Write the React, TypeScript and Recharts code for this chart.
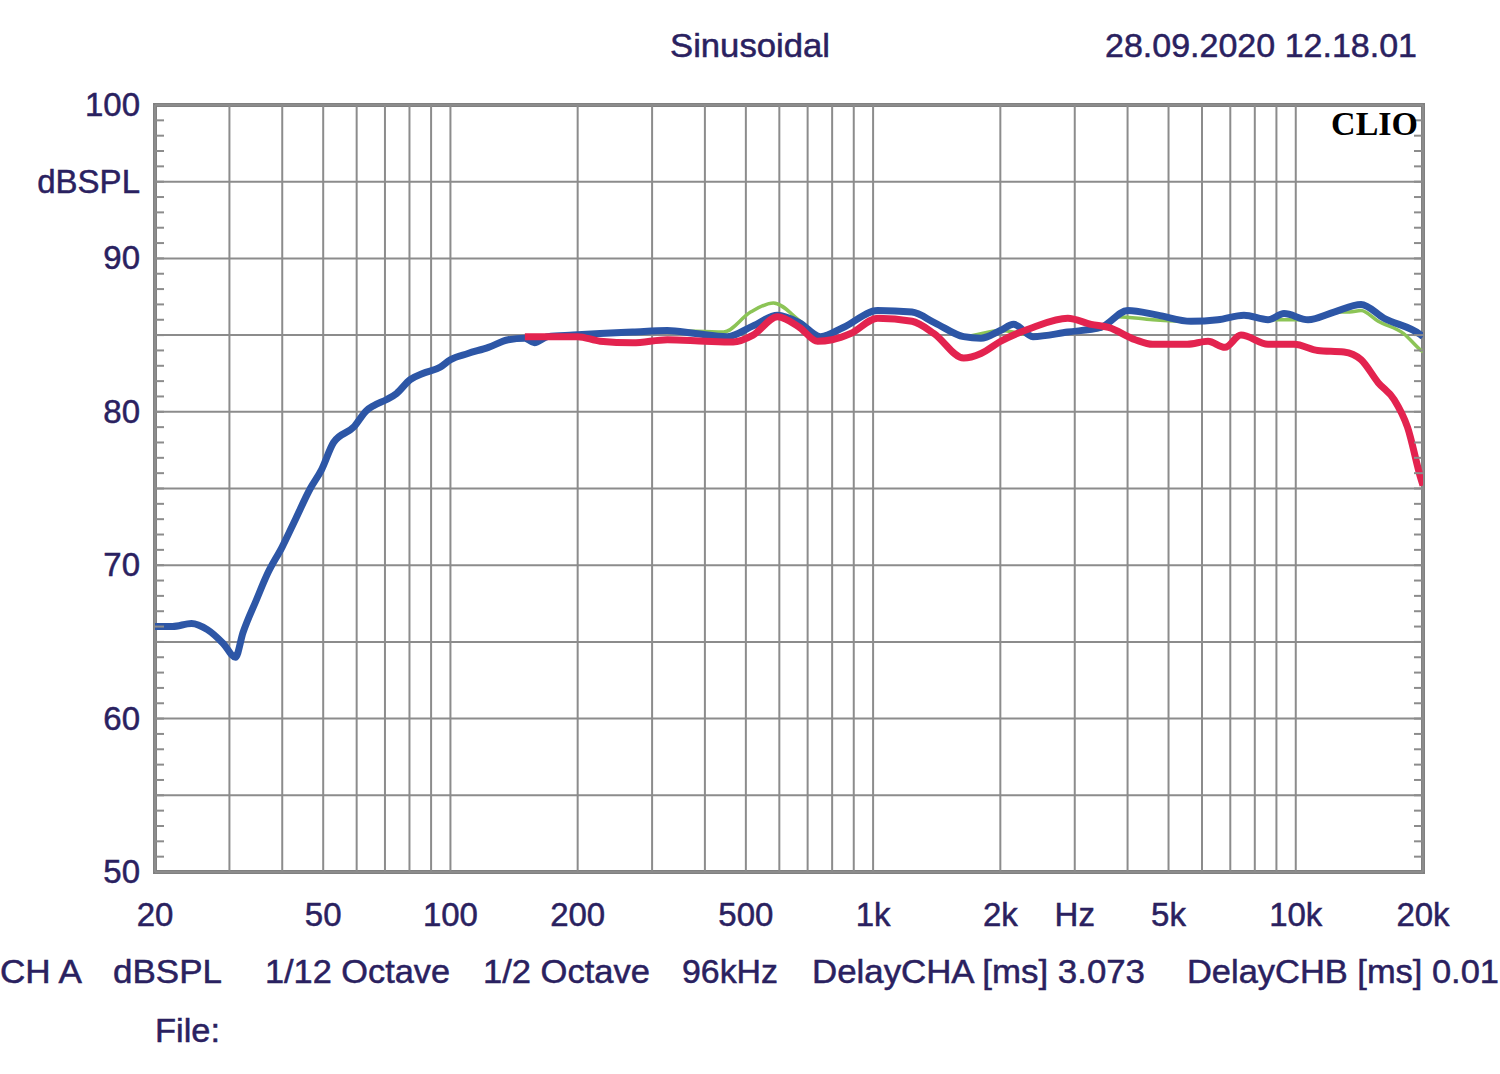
import React from 'react';
import { LineChart, Line, XAxis, YAxis, ReferenceLine, ReferenceArea } from 'recharts';

const blueFreqs = [20, 22, 24.4, 26.6, 29, 31, 32.3, 34.7, 37, 40, 43, 46.6, 49.5, 52.9, 59, 63.4, 65.8, 70.7, 74.6, 80.3, 86, 94.5, 100, 110, 123, 137, 150, 158, 170, 195, 226, 270, 326, 380, 452, 520, 594, 670, 751, 850, 1025, 1236, 1400, 1638, 1800, 2000, 2151, 2389, 2888, 3457, 4004, 4715, 5646, 6543, 7542, 8597, 9380, 10693, 12316, 14270, 16173, 19790, 20000];
const blueDb = [66.0, 66.0, 66.2, 65.8, 64.9, 64.0, 65.6, 67.7, 69.5, 71.2, 73.0, 75.0, 76.2, 78.0, 79.0, 80.1, 80.4, 80.8, 81.2, 82.1, 82.5, 82.9, 83.4, 83.8, 84.2, 84.7, 84.8, 84.5, 84.9, 85.0, 85.1, 85.2, 85.3, 85.1, 84.9, 85.6, 86.3, 85.8, 84.9, 85.5, 86.6, 86.5, 85.8, 84.9, 84.8, 85.3, 85.7, 84.9, 85.2, 85.5, 86.6, 86.3, 85.9, 86.0, 86.3, 86.0, 86.4, 86.0, 86.5, 87.0, 86.1, 85.0, 84.9];

const greenFreqs = [150, 226, 326, 443, 513, 581, 673, 751, 850, 1025, 1236, 1400, 1638, 2000, 2389, 2888, 3457, 3794, 4587, 5646, 6543, 7542, 8597, 10693, 12316, 13420, 14270, 15670, 18000, 19790, 20000];
const greenDb = [84.8, 85.1, 85.3, 85.2, 86.5, 87.1, 85.9, 84.9, 85.5, 86.6, 86.5, 85.8, 84.9, 85.3, 85.0, 85.2, 85.4, 86.2, 86.0, 85.9, 86.0, 86.3, 86.0, 86.0, 86.5, 86.5, 86.6, 85.9, 85.1, 84.0, 83.9];

const redFreqs = [150, 200, 226, 270, 326, 400, 467, 520, 594, 670, 739, 800, 885, 1025, 1236, 1394, 1638, 1800, 2005, 2389, 2888, 3280, 3607, 4170, 4587, 5540, 6200, 6800, 7418, 8597, 9920, 11270, 13000, 14270, 15670, 17090, 18380, 19790, 20000];
const redDb = [84.9, 84.9, 84.6, 84.5, 84.7, 84.6, 84.55, 85.0, 86.2, 85.5, 84.6, 84.7, 85.1, 86.1, 85.9, 85.1, 83.5, 83.8, 84.6, 85.5, 86.1, 85.7, 85.5, 84.7, 84.4, 84.4, 84.6, 84.2, 85.0, 84.4, 84.4, 84.0, 83.9, 83.4, 81.9, 80.8, 79.0, 75.6, 75.2];

const freqTicks = [20, 50, 100, 200, 500, 1000, 2000, 3000, 5000, 10000, 20000];
const freqTickLabels = ['20', '50', '100', '200', '500', '1k', '2k', 'Hz', '5k', '10k', '20k'];
const gridFreqs = [20, 30, 40, 50, 60, 70, 80, 90, 100, 200, 300, 400, 500, 600, 700, 800, 900, 1000, 2000, 3000, 4000, 5000, 6000, 7000, 8000, 9000, 10000, 20000];
const dbGrid = [50, 55, 60, 65, 70, 75, 80, 85, 90, 95, 100];
const dbLabelValues = [50, 60, 70, 80, 90, 95, 100];
const dbLabels = ['50', '60', '70', '80', '90', 'dBSPL', '100'];
const minorDbTicks = [50, 51, 52, 53, 54, 55, 56, 57, 58, 59, 60, 61, 62, 63, 64, 65, 66, 67, 68, 69, 70, 71, 72, 73, 74, 75, 76, 77, 78, 79, 80, 81, 82, 83, 84, 85, 86, 87, 88, 89, 90, 91, 92, 93, 94, 95, 96, 97, 98, 99, 100];

const toPoints = (freqs: number[], dbs: number[]) => freqs.map((f, i) => ({ f, db: dbs[i] }));
const blueData = toPoints(blueFreqs, blueDb);
const greenData = toPoints(greenFreqs, greenDb);
const redData = toPoints(redFreqs, redDb);

const FONT = '"Liberation Sans", Arial, sans-serif';
const TEXT = '#2a2160';
const GRID = '#8c8c8c';

const FreqTick = ({ x, y, payload }: any) => {
  const idx = freqTicks.indexOf(payload.value);
  return (
    <text x={x} y={y + 46} textAnchor="middle" fontSize={33} fontFamily={FONT} fill={TEXT} stroke={TEXT} strokeWidth={0.5}>
      {freqTickLabels[idx]}
    </text>
  );
};

// left axis: small inward tick every dB, label where one is given
const LeftTick = ({ x, y, payload }: any) => {
  const idx = dbLabelValues.indexOf(payload.value);
  return (
    <g>
      <line x1={x} x2={x + 9} y1={y} y2={y} stroke={GRID} strokeWidth={2} />
      {idx >= 0 && (
        <text x={x - 15} y={y + 11} textAnchor="end" fontSize={33} fontFamily={FONT} fill={TEXT} stroke={TEXT} strokeWidth={0.5}>
          {dbLabels[idx]}
        </text>
      )}
    </g>
  );
};

const RightTick = ({ x, y }: any) => <line x1={x - 9} x2={x} y1={y} y2={y} stroke={GRID} strokeWidth={2} />;

const App = () => {
  return (
    <div style={{ position: 'absolute', left: 0, top: 0, width: 1500, height: 1074, background: '#fff' }}>
      <LineChart width={1500} height={1074} data={blueData} margin={{ top: 105, right: 0, bottom: 142, left: 0 }}>
        {dbGrid.map((v) => (
          <ReferenceLine key={'h' + v} y={v} stroke={GRID} strokeWidth={2} />
        ))}
        {gridFreqs.map((f) => (
          <ReferenceLine key={'v' + f} x={f} stroke={GRID} strokeWidth={2} />
        ))}
        <XAxis
          dataKey="f"
          type="number"
          scale="log"
          domain={[20, 20000]}
          allowDataOverflow
          ticks={freqTicks}
          tick={<FreqTick />}
          tickLine={false}
          axisLine={false}
          height={60}
          interval={0}
        />
        <YAxis
          type="number"
          domain={[50, 100]}
          allowDataOverflow
          ticks={minorDbTicks}
          tick={<LeftTick />}
          tickSize={0}
          tickMargin={0}
          tickLine={false}
          axisLine={false}
          width={155}
          interval={0}
        />
        <YAxis
          yAxisId="right"
          orientation="right"
          type="number"
          domain={[50, 100]}
          allowDataOverflow
          ticks={minorDbTicks}
          tick={<RightTick />}
          tickSize={0}
          tickMargin={0}
          tickLine={false}
          axisLine={false}
          width={77}
          interval={0}
        />
        <ReferenceArea x1={20} x2={20000} y1={50} y2={100} fill="none" stroke="#808080" strokeWidth={4} />
        <Line yAxisId="right" data={greenData} dataKey="db" type="monotone" stroke="#8cc456" strokeWidth={3.5} dot={false} activeDot={false} isAnimationActive={false} />
        <Line data={blueData} dataKey="db" type="monotone" stroke="#2d56a6" strokeWidth={7} dot={false} activeDot={false} isAnimationActive={false} />
        <Line data={redData} dataKey="db" type="monotone" stroke="#e3234f" strokeWidth={7} dot={false} activeDot={false} isAnimationActive={false} />
      </LineChart>

      <svg width={1500} height={1074} style={{ position: 'absolute', left: 0, top: 0, pointerEvents: 'none' }}>
        <g fontFamily={FONT} fontSize={33} fill={TEXT} stroke={TEXT} strokeWidth={0.5}>
          <text x={670} y={57} textLength={160} lengthAdjust="spacingAndGlyphs">Sinusoidal</text>
          <text x={1105} y={57} textLength={312} lengthAdjust="spacingAndGlyphs">28.09.2020 12.18.01</text>
          <text x={0} y={983} textLength={82} lengthAdjust="spacingAndGlyphs">CH A</text>
          <text x={113} y={983} textLength={109} lengthAdjust="spacingAndGlyphs">dBSPL</text>
          <text x={265} y={983} textLength={185} lengthAdjust="spacingAndGlyphs">1/12 Octave</text>
          <text x={483} y={983} textLength={167} lengthAdjust="spacingAndGlyphs">1/2 Octave</text>
          <text x={682} y={983} textLength={96} lengthAdjust="spacingAndGlyphs">96kHz</text>
          <text x={812} y={983} textLength={333} lengthAdjust="spacingAndGlyphs">DelayCHA [ms] 3.073</text>
          <text x={1187} y={983} textLength={312} lengthAdjust="spacingAndGlyphs">DelayCHB [ms] 0.01</text>
          <text x={155} y={1042} textLength={65} lengthAdjust="spacingAndGlyphs">File:</text>
        </g>
        <text x={1418} y={135} textAnchor="end" fontFamily='"Liberation Serif", "DejaVu Serif", serif' fontWeight="bold" fontSize={34} fill="#000">
          CLIO
        </text>
      </svg>
    </div>
  );
};

export default App;
